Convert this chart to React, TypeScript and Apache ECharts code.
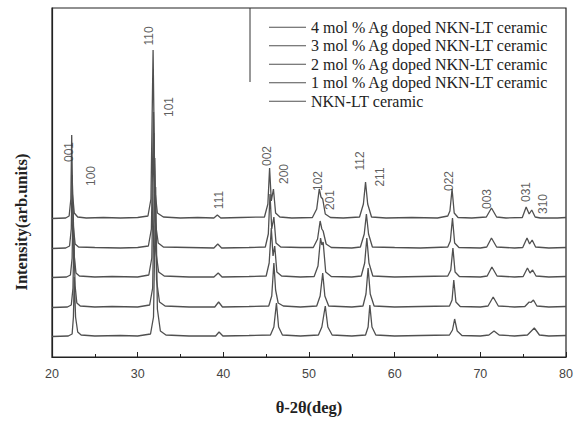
import React, { useEffect, useRef } from "react";
import * as echarts from "echarts";

const seriesNames = [
  "4 mol % Ag doped NKN-LT ceramic",
  "3 mol % Ag doped NKN-LT ceramic",
  "2 mol % Ag doped NKN-LT ceramic",
  "1 mol % Ag doped NKN-LT ceramic",
  "NKN-LT ceramic",
];

// [2θ, intensity above own baseline]
const trace4mol: number[][] = [
  [20, 0.5], [21.6, 1], [22.0, 3], [22.2, 20], [22.3, 84], [22.4, 25], [22.6, 6], [23.0, 2], [24, 1], [26, 1.5], [28, 1], [30, 1.5],
  [31.2, 3], [31.55, 20], [31.8, 169], [32.0, 30], [32.3, 6], [33, 2], [35, 1], [37, 1.5], [38.9, 1], [39.3, 4], [39.7, 1], [42, 1.5],
  [44.8, 2], [45.2, 15], [45.4, 51], [45.6, 18], [45.85, 30], [46.1, 6], [46.6, 2], [48, 1], [50.4, 1.5], [50.9, 10], [51.2, 30],
  [51.4, 22], [51.6, 20], [51.9, 5], [52.5, 1.5], [54, 1], [55.9, 2], [56.35, 15], [56.6, 37], [56.85, 15], [57.3, 2], [59, 1],
  [62, 1.5], [65, 1], [66.2, 3], [66.45, 8], [66.7, 30], [66.95, 6], [67.4, 1.5], [69, 1], [70.7, 2], [71.3, 11], [71.9, 2], [73, 1],
  [74.9, 1.5], [75.35, 12], [75.7, 5], [76.0, 9], [76.4, 2], [77, 1], [79, 1], [80, 1.5],
];
const trace3mol: number[][] = [
  [20, 0.5], [21.6, 1], [22.05, 3], [22.25, 20], [22.35, 74], [22.5, 22], [22.7, 5], [23.1, 2], [25, 1.5], [28, 1], [30, 1.5],
  [31.25, 3], [31.6, 20], [31.85, 137], [32.05, 28], [32.4, 6], [33, 2], [36, 1.5], [38.9, 1], [39.35, 5], [39.8, 1], [43, 1.5],
  [44.9, 2], [45.25, 15], [45.45, 55], [45.65, 20], [45.9, 32], [46.15, 6], [46.7, 2], [49, 1.5], [50.5, 1.5], [51.0, 10], [51.3, 28],
  [51.5, 20], [51.65, 18], [52.0, 5], [52.6, 1.5], [55, 1], [56.0, 2], [56.45, 15], [56.7, 35], [56.95, 15], [57.4, 2], [60, 1.5],
  [63, 1], [66.2, 2], [66.5, 8], [66.75, 31], [67.0, 6], [67.5, 1.5], [70, 1], [70.75, 2], [71.3, 11], [71.9, 2], [74, 1],
  [74.95, 1.5], [75.45, 11], [75.75, 5], [76.05, 9], [76.45, 2], [78, 1], [80, 1.5],
];
const trace2mol: number[][] = [
  [20, 0.5], [21.7, 1], [22.15, 3], [22.35, 20], [22.45, 72], [22.6, 22], [22.8, 5], [23.2, 2], [25, 1], [27, 1.5], [30, 1],
  [31.3, 3], [31.65, 20], [31.9, 145], [32.1, 28], [32.45, 6], [33.1, 2], [36, 1], [38.9, 1], [39.4, 5], [39.85, 1], [43, 1.5],
  [45.0, 2], [45.35, 15], [45.6, 50], [45.8, 22], [46.0, 32], [46.25, 6], [46.8, 2], [49, 1], [50.6, 1.5], [51.05, 12], [51.35, 40],
  [51.5, 33], [51.65, 36], [51.95, 6], [52.6, 1.5], [55, 1], [56.1, 2], [56.5, 15], [56.75, 40], [57.0, 15], [57.45, 2], [60, 1],
  [63, 1.5], [66.2, 2], [66.55, 8], [66.8, 30], [67.05, 6], [67.55, 1.5], [70, 1], [70.8, 2], [71.35, 11], [71.95, 2], [74, 1],
  [75.0, 1.5], [75.5, 10], [75.8, 5], [76.1, 8], [76.5, 2], [78, 1], [80, 1.5],
];
const trace1mol: number[][] = [
  [20, 0.5], [21.8, 1], [22.25, 3], [22.45, 20], [22.55, 70], [22.7, 22], [22.9, 5], [23.3, 2], [25, 1], [27, 1.5], [30, 1],
  [31.4, 3], [31.75, 20], [32.0, 150], [32.2, 28], [32.55, 6], [33.2, 2], [36, 1], [39.0, 1], [39.45, 6], [39.9, 1], [43, 1.5],
  [45.3, 2], [45.65, 12], [45.9, 45], [46.1, 18], [46.4, 5], [47, 2], [49, 1], [50.9, 2], [51.3, 12], [51.6, 35], [51.85, 12],
  [52.3, 2], [55, 1], [56.3, 2], [56.65, 14], [56.9, 40], [57.15, 14], [57.6, 2], [60, 1], [63, 1.5], [66.4, 2], [66.7, 8],
  [66.9, 28], [67.15, 6], [67.65, 1.5], [70, 1], [70.9, 2], [71.5, 11], [72.1, 2], [74, 1], [75.2, 1.5], [75.7, 6], [75.9, 5.5],
  [76.2, 8], [76.6, 2], [78, 1], [80, 1.5],
];
const traceNKNLT: number[][] = [
  [20, 0.5], [21.9, 1], [22.35, 3], [22.5, 20], [22.6, 60], [22.75, 20], [23.0, 5], [23.4, 2], [25, 1], [28, 1.5], [30, 1],
  [31.5, 3], [31.85, 20], [32.1, 150], [32.3, 28], [32.65, 6], [33.3, 2], [36, 1], [39.1, 1], [39.5, 5], [39.95, 1], [43, 1.5],
  [45.5, 2], [45.9, 10], [46.2, 34], [46.45, 10], [46.9, 2], [49, 1], [51.1, 2], [51.5, 10], [51.9, 31], [52.2, 10], [52.7, 2],
  [55, 1], [56.6, 2], [56.9, 10], [57.1, 32], [57.35, 10], [57.8, 2], [60, 1], [63, 1.5], [66.4, 2], [66.75, 7], [67.0, 18],
  [67.3, 6], [67.85, 1.5], [70, 1], [71.0, 2], [71.6, 6], [72.2, 2], [74, 1], [75.5, 2], [76.3, 9], [76.9, 2], [78, 1], [80, 1.5],
];
const traces = [trace4mol, trace3mol, trace2mol, trace1mol, traceNKNLT];
const traceOffsets = [138, 108, 79, 49, 20];

// Miller index annotations (text, 2θ, height in chart units)
const hklLabels = ["001", "100", "110", "101", "111", "002", "200", "102", "201", "112", "211", "022", "003", "031", "310"];
const hklX = [22.0, 24.56, 31.35, 33.68, 39.53, 45.15, 47.13, 51.0, 52.4, 55.9, 58.25, 66.4, 70.76, 75.32, 77.3];
const hklY = [205, 181, 321, 250, 157, 201, 183, 176, 157, 196, 180, 176, 158, 165, 153];

const xTicks = { min: 20, max: 80, interval: 10 };

export default function App() {
  const ref = useRef<HTMLDivElement>(null);
  useEffect(() => {
    if (!ref.current) return;
    const chart = echarts.init(ref.current, undefined, { renderer: "svg" });
    const lineColor = "#505050";
    const series: any[] = traces.map((t, i) => ({
      name: seriesNames[i],
      type: "line",
      data: t.map(([x, y]) => [x, y + traceOffsets[i]]),
      showSymbol: false,
      symbol: "none",
      lineStyle: { color: lineColor, width: 1.3 },
      itemStyle: { color: lineColor },
      z: 3,
    }));
    series.push({
      type: "scatter",
      silent: true,
      symbolSize: 0,
      data: hklLabels.map((l, i) => ({ name: l, value: [hklX[i], hklY[i]] })),
      label: {
        show: true,
        formatter: (p: any) => p.name,
        rotate: 90,
        position: "inside",
        align: "center",
        verticalAlign: "middle",
        color: "#333",
        fontFamily: "Liberation Sans",
        fontSize: 12,
      },
      z: 4,
    });
    chart.setOption({
      animation: false,
      backgroundColor: "#fff",
      grid: {
        left: 52,
        right: 10,
        top: 8,
        bottom: 67,
        show: true,
        borderColor: "#222",
        borderWidth: 1.2,
        backgroundColor: "transparent",
      },
      legend: {
        data: seriesNames,
        orient: "vertical",
        left: 264,
        top: 13,
        icon: "rect",
        itemWidth: 37,
        itemHeight: 1.2,
        itemGap: 0,
        textStyle: {
          fontFamily: "Liberation Serif",
          fontSize: 16,
          color: "#222",
          lineHeight: 18.5,
        },
      },
      xAxis: {
        type: "value",
        min: xTicks.min,
        max: xTicks.max,
        interval: xTicks.interval,
        axisLine: { show: true, lineStyle: { color: "#222", width: 1.2 } },
        axisTick: { show: true, inside: true, length: 5, lineStyle: { color: "#222" } },
        minorTick: { show: true, splitNumber: 2, length: 3, lineStyle: { color: "#222" } },
        splitLine: { show: false },
        axisLabel: { color: "#444", fontFamily: "Liberation Sans", fontSize: 12.5, margin: 10 },
        name: "θ-2θ(deg)",
        nameLocation: "middle",
        nameGap: 42,
        nameTextStyle: { fontFamily: "Liberation Serif", fontWeight: "bold", fontSize: 16.5, color: "#222" },
      },
      yAxis: {
        type: "value",
        min: 0,
        max: 349,
        axisLine: { show: true, lineStyle: { color: "#222", width: 1.2 } },
        axisTick: { show: false },
        axisLabel: { show: false },
        splitLine: { show: false },
      },
      graphic: [
        {
          type: "line",
          shape: { x1: 250, y1: 8, x2: 250, y2: 82 },
          style: { stroke: "#333", lineWidth: 1 },
        },
        {
          type: "text",
          x: 21,
          y: 222,
          rotation: Math.PI / 2,
          style: {
            text: "Intensity(arb.units)",
            fontFamily: "Liberation Serif",
            fontWeight: "bold",
            fontSize: 16.5,
            fill: "#222",
            align: "center",
            verticalAlign: "middle",
          },
        },
      ],
      series,
    });
    return () => chart.dispose();
  }, []);
  return (
    <div
      ref={ref}
      style={{ position: "absolute", left: 0, top: 0, width: 576, height: 424, background: "#fff" }}
    />
  );
}
